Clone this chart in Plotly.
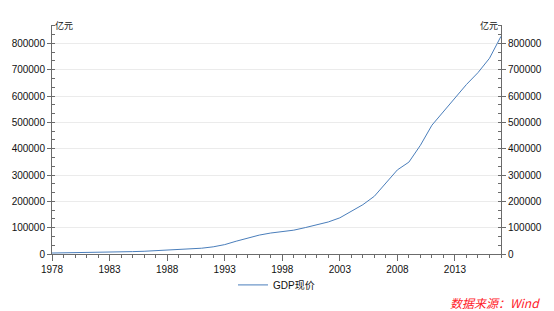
import plotly.graph_objects as go

years = list(range(1978, 2018))
gdp = [3678.7, 4100.5, 4587.6, 4935.8, 5373.4, 6020.9, 7278.5, 9098.9, 10376.2, 12174.6,
       15180.4, 17179.7, 18872.9, 22005.6, 27194.5, 35673.2, 48637.5, 61339.9, 71813.6, 79715.0,
       85195.5, 90564.4, 100280.1, 110863.1, 121717.4, 137422.0, 161840.2, 187318.9, 219438.5, 270232.3,
       319515.5, 349081.4, 413030.3, 489300.6, 540367.4, 595244.4, 643974.0, 689052.1, 743585.5, 827121.7]
x_ticks = [1978, 1983, 1988, 1993, 1998, 2003, 2008, 2013]
series_name = "GDP现价"
unit = "亿元"
source = "数据来源：Wind"

FONT = "Liberation Sans, Arial, Noto Sans CJK SC"
AX = "#6b6b6b"

fig = go.Figure()
fig.add_trace(go.Scatter(x=years, y=gdp, mode="lines", name=series_name,
                         line=dict(color="#4a7ebb", width=1)))
fig.add_trace(go.Scatter(x=years, y=gdp, mode="lines", yaxis="y2", showlegend=False,
                         hoverinfo="skip", line=dict(color="rgba(0,0,0,0)", width=0)))

yax = dict(range=[0, 870000], dtick=100000, tick0=0, showgrid=True, gridcolor="#ebebeb",
           gridwidth=1, showline=True, linecolor=AX, linewidth=1, ticks="outside",
           ticklen=4, tickcolor=AX, tickfont=dict(size=10, color="#111", family=FONT),
           zeroline=False, tickformat="d",
           minor=dict(dtick=100000 / 3, tick0=0, ticks="inside", ticklen=3, tickcolor=AX,
                      showgrid=False))

fig.update_layout(
    width=554, height=311,
    margin=dict(l=47, r=48, t=25, b=57),
    paper_bgcolor="white", plot_bgcolor="white",
    font=dict(family=FONT, size=10, color="#111"),
    xaxis=dict(range=[1978, 2017], tickvals=x_ticks, showgrid=False, showline=True,
               linecolor=AX, linewidth=1, ticks="outside", ticklen=6, tickcolor=AX,
               tickfont=dict(size=10, color="#111", family=FONT), zeroline=False,
               minor=dict(dtick=1, tick0=1978, ticks="outside", ticklen=3, tickcolor=AX)),
    yaxis=yax,
    yaxis2=dict(yax, overlaying="y", side="right", showgrid=False,
                minor=dict(dtick=100000 / 3, tick0=0, ticks="inside", ticklen=3,
                           tickcolor=AX, showgrid=False)),
    legend=dict(orientation="h", x=0.5, xanchor="center", y=-0.135, yanchor="middle",
                font=dict(size=10, color="#111", family=FONT), bgcolor="rgba(0,0,0,0)"),
    showlegend=True,
    annotations=[
        dict(text=unit, xref="paper", yref="paper", x=0, y=1, xanchor="left", yanchor="middle",
             xshift=1, showarrow=False, font=dict(size=9, color="#111", family="Noto Sans CJK SC")),
        dict(text=unit, xref="paper", yref="paper", x=1, y=1, xanchor="right", yanchor="middle",
             xshift=-1, showarrow=False, font=dict(size=9, color="#111", family="Noto Sans CJK SC")),
        dict(text=source, xref="paper", yref="paper", x=1.092, y=-0.21, xanchor="right",
             yanchor="middle", showarrow=False,
             font=dict(size=12, color="#ff1a2a", family="Noto Sans CJK SC", style="italic")),
    ],
)

fig.write_html("out.html")
